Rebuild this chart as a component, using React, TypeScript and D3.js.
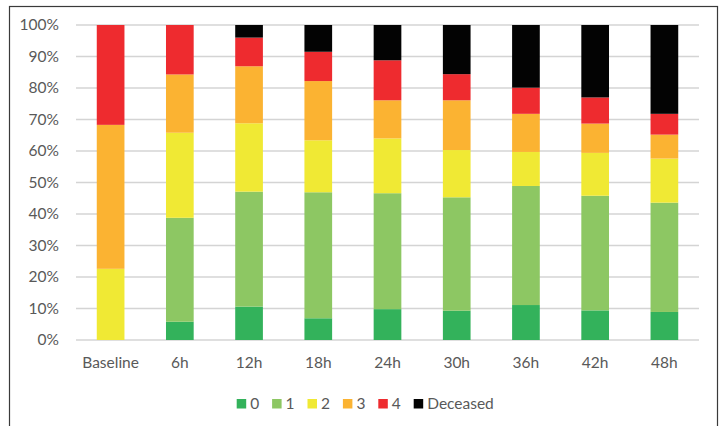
import React from "react";
import * as d3 from "d3";

const categories = ["Baseline", "6h", "12h", "18h", "24h", "30h", "36h", "42h", "48h"];
const seriesKeys = ["0", "1", "2", "3", "4", "Deceased"];
const s0 = [0, 5.8, 10.6, 6.9, 9.8, 9.3, 11.1, 9.4, 8.9];
const s1 = [0, 33.0, 36.5, 40.0, 36.8, 36.0, 37.8, 36.4, 34.7];
const s2 = [22.6, 27.0, 21.7, 16.5, 17.4, 15.0, 10.8, 13.6, 14.0];
const s3 = [45.7, 18.5, 18.1, 18.8, 12.1, 15.8, 12.1, 9.3, 7.6];
const s4 = [31.7, 15.7, 9.1, 9.3, 12.7, 8.3, 8.3, 8.3, 6.6];
const sD = [0, 0, 4.0, 8.5, 11.2, 15.6, 19.9, 23.0, 28.2];
const yTicks = [0, 10, 20, 30, 40, 50, 60, 70, 80, 90, 100];
const colors = ["#33B25B", "#8DC763", "#F0E934", "#FBB332", "#EE2B2F", "#030303"];

const W = 725;
const H = 426;
const plot = { left: 76, right: 699, top: 25, bottom: 340 };
const font = "Lato, 'Open Sans', sans-serif";
const textColor = "#595959";

export default function App() {
  const allSeries = [s0, s1, s2, s3, s4, sD];
  const rows = categories.map((c, i) => {
    const r: any = { cat: c };
    seriesKeys.forEach((k, j) => (r[k] = allSeries[j][i]));
    return r;
  });
  const stack = d3.stack<any>().keys(seriesKeys);
  const stacked = stack(rows);

  const x = d3
    .scaleBand<string>()
    .domain(categories)
    .range([plot.left, plot.right])
    .paddingInner(0.6)
    .paddingOuter(0.3);
  const y = d3.scaleLinear().domain([0, 100]).range([plot.bottom, plot.top]);

  const legendStart = 236.7;
  const legendStep = 35.4;

  return (
    <svg
      width={W}
      height={H}
      style={{ position: "absolute", left: 0, top: 0, background: "#fff" }}
    >
      <rect x={0} y={0} width={W} height={H} fill="#fff" />
      <rect x={9.5} y={6.5} width={708} height={440} fill="none" stroke="#3a3a3a" strokeWidth={1.2} />
      {yTicks.map((t) => (
        <g key={t}>
          <line
            x1={plot.left}
            x2={plot.right}
            y1={y(t)}
            y2={y(t)}
            stroke="#d4d4d4"
            strokeWidth={1.3}
          />
          <text
            x={59}
            y={y(t)}
            dy="0.35em"
            textAnchor="end"
            fontFamily={font}
            fontSize={15.5}
            fill={textColor}
          >
            {t}%
          </text>
        </g>
      ))}
      {stacked.map((layer, j) => (
        <g key={layer.key} fill={colors[j]}>
          {layer.map((d, i) =>
            d[1] - d[0] > 0 ? (
              <rect
                key={i}
                x={x(categories[i])!}
                width={x.bandwidth()}
                y={y(d[1])}
                height={y(d[0]) - y(d[1])}
              />
            ) : null
          )}
        </g>
      ))}
      {categories.map((c) => (
        <text
          key={c}
          x={x(c)! + x.bandwidth() / 2}
          y={368}
          textAnchor="middle"
          fontFamily={font}
          fontSize={15.5}
          fill={textColor}
        >
          {c}
        </text>
      ))}
      {seriesKeys.map((k, j) => (
        <g key={k} transform={`translate(${legendStart + j * legendStep},399)`}>
          <rect x={0} y={0} width={9.5} height={9.5} fill={colors[j]} />
          <text
            x={13.5}
            y={4.8}
            dy="0.35em"
            fontFamily={font}
            fontSize={15.5}
            fill={textColor}
          >
            {k}
          </text>
        </g>
      ))}
    </svg>
  );
}
